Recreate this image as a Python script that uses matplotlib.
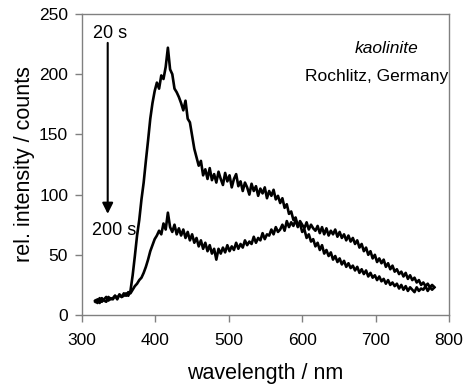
import numpy as np
import matplotlib
matplotlib.use('Agg')
import matplotlib.pyplot as plt

plt.rcParams['font.family'] = ['Liberation Sans', 'DejaVu Sans']

# Wavelength grid (nm), one reading every 3 nm (318 ... 780)
wavelength = np.arange(318, 781, 3)

# Spectrum after 20 s
counts_20s = [
    11, 13, 10, 14, 12, 11, 15, 13, 14, 16,            # 318-345
    13, 17, 15, 16, 18, 16, 20, 33, 49, 66,            # 348-375
    79, 96, 110, 128, 145, 163, 176, 186, 193, 188,    # 378-405
    199, 196, 206, 222, 204, 200, 188, 185, 181, 176,  # 408-435
    170, 178, 163, 160, 149, 138, 131, 124, 128, 116,  # 438-465
    121, 113, 122, 112, 117, 110, 119, 113, 108, 118,  # 468-495
    111, 116, 106, 113, 117, 107, 111, 103, 110, 106,  # 498-525
    100, 109, 103, 107, 99, 105, 101, 106, 97, 103,    # 528-555
    99, 104, 96, 99, 93, 97, 89, 92, 84, 86,           # 558-585
    79, 81, 74, 76, 69, 71, 64, 67, 61, 63,            # 588-615
    57, 60, 54, 58, 51, 54, 49, 52, 46, 49,            # 618-645
    44, 47, 42, 45, 40, 43, 39, 41, 37, 40,            # 648-675
    35, 38, 34, 37, 32, 35, 31, 33, 29, 32,            # 678-705
    28, 30, 26, 29, 25, 27, 24, 26, 22, 25,            # 708-735
    21, 24, 20, 23, 21, 19, 23, 20, 22, 21,            # 738-765
    24, 20, 23, 21, 23,                                # 768-780
]

# Spectrum after 200 s
counts_200s = [
    12, 10, 14, 11, 13, 15, 12, 14, 13, 16,            # 318-345
    14, 17, 15, 18, 16, 19, 18, 21, 24, 26,            # 348-375
    29, 31, 35, 40, 46, 53, 58, 63, 66, 70,            # 378-405
    67, 76, 71, 85, 73, 69, 75, 67, 72, 66,            # 408-435
    71, 64, 69, 62, 67, 60, 64, 57, 62, 55,            # 438-465
    60, 53, 58, 51, 55, 46, 55, 51, 56, 52,            # 468-495
    58, 53, 57, 54, 60, 55, 59, 56, 62, 58,            # 498-525
    61, 59, 65, 60, 64, 62, 68, 63, 67, 66,            # 528-555
    71, 67, 73, 69, 71, 75, 70, 78, 73, 77,            # 558-585
    74, 79, 73, 78, 75, 72, 77, 71, 75, 72,            # 588-615
    70, 74, 68, 73, 67, 72, 66, 70, 67, 71,            # 618-645
    65, 69, 64, 67, 62, 66, 61, 64, 59, 62,            # 648-675
    56, 59, 53, 56, 50, 53, 47, 50, 44, 47,            # 678-705
    43, 46, 40, 43, 38, 41, 36, 38, 34, 36,            # 708-735
    32, 35, 30, 33, 29, 31, 27, 29, 25, 27,            # 738-765
    24, 26, 23, 25, 23,                                # 768-780
]

x_ticks = [300, 400, 500, 600, 700, 800]
y_ticks = [0, 50, 100, 150, 200, 250]

fig = plt.figure(figsize=(4.66, 3.92), dpi=100)
ax = fig.add_axes([0.176, 0.1964, 0.7875, 0.7679])

ax.plot(wavelength, counts_20s, color='black', lw=1.9)
ax.plot(wavelength, counts_200s, color='black', lw=1.9)

ax.set_xlim(300, 800)
ax.set_ylim(0, 250)
ax.set_xticks(x_ticks)
ax.set_yticks(y_ticks)

for sp in ax.spines.values():
    sp.set_color('#808080')
    sp.set_linewidth(1.0)
ax.tick_params(axis='both', direction='out', length=5, width=1.0,
               color='#808080', labelsize=12.5, pad=5)
ax.tick_params(axis='x', pad=8)

ax.set_xlabel('wavelength / nm', fontsize=15.5, labelpad=11)
ax.set_ylabel('rel. intensity / counts', fontsize=15.5, labelpad=3)

# arrow 20 s -> 200 s
ax.annotate('', xy=(335, 84), xytext=(335, 226),
            arrowprops=dict(arrowstyle='-|>', color='black', lw=1.5,
                            mutation_scale=16, shrinkA=0, shrinkB=0))
ax.text(338, 234, '20 s', fontsize=13, ha='center', va='center')
ax.text(344, 70, '200 s', fontsize=13, ha='center', va='center')

ax.text(715, 221, 'kaolinite', fontsize=12.5, style='italic',
        ha='center', va='center')
ax.text(702, 198, 'Rochlitz, Germany', fontsize=12.5,
        ha='center', va='center')

fig.savefig('out.png', dpi=100)
